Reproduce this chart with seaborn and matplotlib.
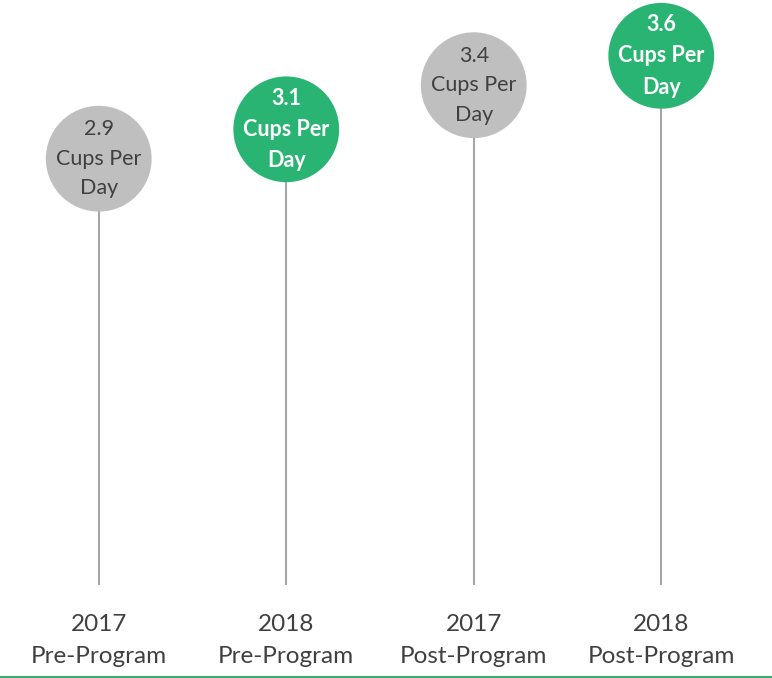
import matplotlib
matplotlib.use("Agg")
import matplotlib.pyplot as plt
import seaborn as sns
import pandas as pd
from matplotlib.lines import Line2D

# data
groups = ["2017\nPre-Program", "2018\nPre-Program", "2017\nPost-Program", "2018\nPost-Program"]
years = ["2017", "2018", "2017", "2018"]
cups = [2.9, 3.1, 3.4, 3.6]

GRAY = "#BFBFBF"
GREEN = "#29B473"
STEM = "#A6A6A6"
TEXT = "#404040"

df = pd.DataFrame({"group": groups, "year": years, "cups": cups})

sns.set_style("white")
plt.rcParams["font.family"] = ["Lato", "DejaVu Sans"]

fig = plt.figure(figsize=(7.72, 6.78), dpi=100)
ax = fig.add_axes([5 / 772, 93 / 678, 750 / 772, 147 * 3.9 / 678])

ax.vlines(df["group"], 0, df["cups"], color=STEM, lw=1.5, zorder=1)
sns.scatterplot(data=df, x="group", y="cups", hue="year",
                palette={"2017": GRAY, "2018": GREEN},
                s=5800, linewidth=0, legend=False, ax=ax, zorder=2, clip_on=False)

for i, row in df.iterrows():
    hi = row["year"] == "2018"
    ax.text(i, row["cups"], f"{row['cups']:.1f}\nCups Per\nDay",
            ha="center", va="center", fontsize=15.5, linespacing=1.6,
            color="white" if hi else TEXT,
            fontweight="bold" if hi else "normal", zorder=3)

ax.set_xlim(-0.5, 3.5)
ax.set_ylim(0, 3.9)
ax.set_xlabel("")
ax.set_ylabel("")
ax.set_yticks([])
ax.tick_params(axis="x", length=0, pad=21, labelsize=17.5, labelcolor=TEXT)
for lbl in ax.get_xticklabels():
    lbl.set_linespacing(1.65)
sns.despine(ax=ax, left=True, bottom=True)

fig.add_artist(Line2D([0, 1], [0.002, 0.002], color="#3BAA6E", lw=1.5,
                      transform=fig.transFigure))

fig.savefig("out.png", dpi=100)
